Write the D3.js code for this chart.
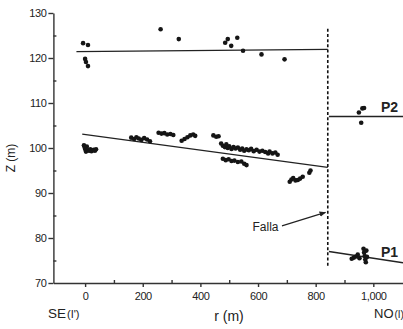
<!DOCTYPE html>
<html>
<head>
<meta charset="utf-8">
<script src="https://cdn.jsdelivr.net/npm/d3@7"></script>
<style>
  body { margin: 0; background: #fff; }
  svg { display: block; font-family: "Liberation Sans", Arial, sans-serif; }
  .axis path, .axis line { stroke: #333; stroke-width: 1.4; }
  .axis text { font-size: 11px; fill: #222; letter-spacing: -0.4px; }
</style>
</head>
<body>
<div id="chart"></div>
<script>
// tick values
var xTicks = [0, 200, 400, 600, 800, 1000],
    xMinor = [100, 300, 500, 700, 900],
    yTicks = [70, 80, 90, 100, 110, 120, 130],
    yMinor = [75, 85, 95, 105, 115, 125];

// measured points [r, z]
var upperPts = [[-7, 123.3], [10, 122.9], [0, 119.8], [3, 119.1], [10, 118.2],
    [262, 126.4], [325, 124.2], [486, 123.4], [495, 124.2], [507, 122.7],
    [528, 124.5], [548, 121.6], [612, 120.8], [692, 119.7]];

var lowerPts = [[-4, 100.6], [0, 99.8], [3, 99.2], [6, 100.3], [10, 99.5], [14, 99.4],
    [18, 99.7], [22, 99.3], [26, 99.5], [30, 99.6], [34, 99.4], [38, 99.7], [-2, 100.2],
    [160, 102.3], [170, 102.0], [178, 102.4], [186, 102.1], [195, 101.8], [205, 102.2],
    [215, 101.9], [225, 101.5],
    [255, 103.4], [265, 103.2], [275, 103.3], [285, 103.0], [296, 103.1], [306, 102.9],
    [335, 101.6], [345, 102.0], [355, 102.4], [365, 102.8], [375, 103.0], [382, 102.7],
    [445, 102.8], [455, 102.5], [463, 102.6],
    [472, 101.0], [478, 100.5], [485, 100.2], [490, 100.8], [495, 100.0], [500, 100.4],
    [508, 99.8], [515, 100.2], [522, 99.9], [530, 100.1], [538, 99.6], [545, 99.9],
    [552, 99.4], [560, 99.7], [568, 99.5], [576, 99.8], [585, 99.3], [595, 99.6],
    [605, 99.2], [615, 99.4], [625, 99.1], [635, 98.8],
    [478, 97.6], [488, 97.3], [498, 97.5], [508, 97.1], [518, 97.2], [530, 96.9],
    [542, 97.0], [552, 96.5], [560, 96.2],
    [640, 99.2], [650, 98.8], [660, 99.0], [668, 98.5],
    [710, 92.5], [716, 93.0], [722, 93.3], [730, 92.8], [738, 92.9], [746, 93.2],
    [755, 93.6], [778, 94.5], [782, 95.0]];

var p2Pts = [[950, 107.9], [962, 108.8], [968, 108.9], [958, 105.6]];

var p1Pts = [[925, 75.4], [932, 75.6], [940, 75.9], [946, 76.3], [952, 75.5],
    [966, 77.6], [968, 76.8], [970, 76.0], [972, 75.2], [974, 74.6], [976, 77.2], [978, 75.8]];

// fitted lines
var upperLine = [[-30, 121.4], [842, 121.9]],
    lowerLine = [[-10, 103.1], [842, 95.7]],
    p2Line = [[846, 107.0], [1103, 107.0]],
    p1Line = [[846, 77.0], [1103, 74.5]],
    faultLine = [[842, 126.5], [842, 73.5]],
    faultArrow = [[683, 82.7], [834, 85.7]];

var W = 403, H = 329;

var svg = d3.select("#chart").append("svg")
    .attr("width", W)
    .attr("height", H);

var x = d3.scaleLinear().domain([-110, 1103]).range([53.4, 403]);
var y = d3.scaleLinear().domain([70, 130]).range([283, 13]);

svg.append("defs").append("marker")
    .attr("id", "arr")
    .attr("viewBox", "0 0 10 10")
    .attr("refX", 9).attr("refY", 5)
    .attr("markerWidth", 6).attr("markerHeight", 6)
    .attr("orient", "auto")
    .append("path")
    .attr("d", "M0,1 L10,5 L0,9 Z")
    .attr("fill", "#222");

// axes
svg.append("g").attr("class", "axis")
    .attr("transform", "translate(0," + y(70) + ")")
    .call(d3.axisBottom(x).tickValues(xTicks).tickSize(4).tickSizeOuter(0).tickPadding(5));
svg.append("g").attr("class", "axis")
    .attr("transform", "translate(0," + y(70) + ")")
    .call(d3.axisBottom(x).tickValues(xMinor).tickSize(-3).tickSizeOuter(0).tickFormat(""))
    .select(".domain").remove();

svg.append("g").attr("class", "axis")
    .attr("transform", "translate(" + x(-110) + ",0)")
    .call(d3.axisLeft(y).tickValues(yTicks).tickSize(5).tickSizeOuter(0).tickPadding(2));
svg.append("g").attr("class", "axis")
    .attr("transform", "translate(" + x(-110) + ",0)")
    .call(d3.axisLeft(y).tickValues(yMinor).tickSize(-3).tickSizeOuter(0).tickFormat(""))
    .select(".domain").remove();

// lines
var line = d3.line().x(function(d) { return x(d[0]); }).y(function(d) { return y(d[1]); });

[upperLine, lowerLine, p2Line, p1Line].forEach(function(l) {
    svg.append("path").attr("d", line(l))
        .attr("fill", "none").attr("stroke", "#222").attr("stroke-width", 1.3);
});

svg.append("path").attr("d", line(faultLine))
    .attr("fill", "none").attr("stroke", "#111").attr("stroke-width", 1.6)
    .attr("stroke-dasharray", "3,2.2");

svg.append("path").attr("d", line(faultArrow))
    .attr("fill", "none").attr("stroke", "#222").attr("stroke-width", 1.1)
    .attr("marker-end", "url(#arr)");

// points
[upperPts, lowerPts, p2Pts, p1Pts].forEach(function(pts) {
    svg.append("g").selectAll("circle")
        .data(pts)
        .enter()
        .append("circle")
        .attr("cx", function(d) { return x(d[0]); })
        .attr("cy", function(d) { return y(d[1]); })
        .attr("r", 2.3)
        .attr("fill", "#151515");
});

// labels
svg.append("text")
    .attr("transform", "translate(15,158) rotate(-90)")
    .attr("text-anchor", "middle")
    .attr("font-size", "12px").attr("fill", "#222")
    .text("Z (m)");

svg.append("text")
    .attr("x", 229).attr("y", 321)
    .attr("text-anchor", "middle")
    .attr("font-size", "14px").attr("fill", "#222")
    .text("r (m)");

var se = svg.append("text").attr("x", 48).attr("y", 318).attr("fill", "#222");
se.append("tspan").attr("font-size", "13.5px").text("SE");
se.append("tspan").attr("font-size", "11px").attr("dx", 1).text("(I')");

var no = svg.append("text").attr("x", 374).attr("y", 318).attr("fill", "#222");
no.append("tspan").attr("font-size", "13px").text("NO");
no.append("tspan").attr("font-size", "10px").attr("dx", 1).text("(I)");

svg.append("text")
    .attr("x", 252.5).attr("y", 230.5)
    .attr("font-size", "12px").attr("fill", "#222")
    .text("Falla");

svg.append("text")
    .attr("x", 381).attr("y", 112)
    .attr("font-size", "14px").attr("font-weight", "bold").attr("fill", "#222")
    .text("P2");

svg.append("text")
    .attr("x", 381).attr("y", 256.5)
    .attr("font-size", "14px").attr("font-weight", "bold").attr("fill", "#222")
    .text("P1");
</script>
</body>
</html>
